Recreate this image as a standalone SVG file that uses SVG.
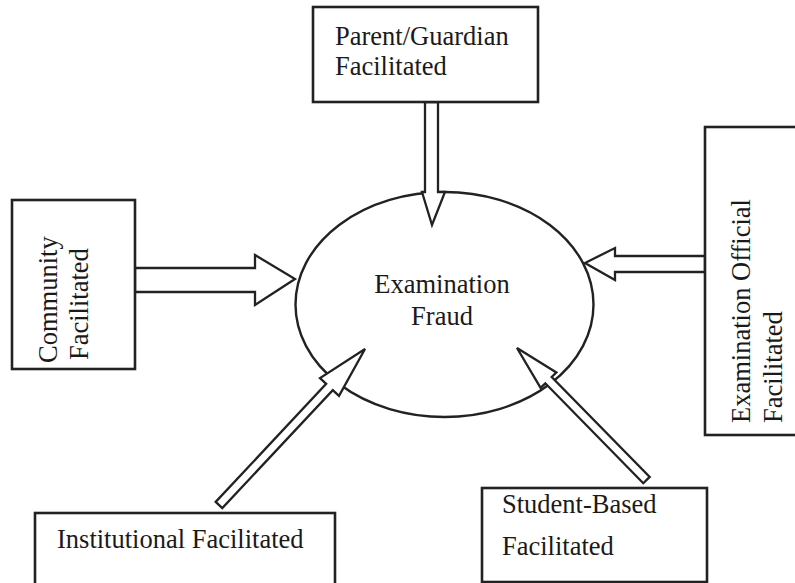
<svg xmlns="http://www.w3.org/2000/svg" width="795" height="583" viewBox="0 0 795 583">
<style>
.box{fill:#ffffff;stroke:#222;stroke-width:2.6}
.ell{fill:none;stroke:#222;stroke-width:2.4}
.arr{fill:#ffffff;stroke:#222;stroke-width:2.3;stroke-linejoin:miter}
.t{font-family:"Liberation Serif","Times New Roman",serif;font-size:26.5px;fill:#1a1a1a}
</style>
<rect width="795" height="583" fill="#ffffff"/>
<g id="fraud">
<ellipse class="ell" cx="444.5" cy="304.5" rx="149" ry="112.5"/>
<text class="t" x="442" y="293" text-anchor="middle">Examination</text>
<text class="t" x="442" y="325" text-anchor="middle">Fraud</text>
</g>
<g id="connectors">
<polygon class="arr" points="425,102 438,102 438,192 445,192 432,225 422,192 425,192"/>
<polygon class="arr" points="135,268 255,268 255,255 295,279 255,305 255,292 135,292"/>
<polygon class="arr" points="705,256 615,256 615,248 585,263 615,280 615,272 705,272"/>
<polygon class="arr" points="215.7,501.9 326.2,383.9 320,378.1 365,349 339,395.9 332.8,390.1 222.3,508.1"/>
<polygon class="arr" points="643.3,483.2 545.3,383.3 540.6,387.8 517,348 556.4,372.4 551.7,377 649.7,476.9"/>
</g>
<g id="parent">
<rect class="box" x="313" y="7" width="225" height="95"/>
<text class="t" x="335" y="45">Parent/Guardian</text>
<text class="t" x="335" y="75">Facilitated</text>
</g>
<g id="community">
<rect class="box" x="12" y="200" width="123" height="169"/>
<text class="t" transform="translate(57,363) rotate(-90)">Community</text>
<text class="t" transform="translate(88,360) rotate(-90)">Facilitated</text>
</g>
<g id="official">
<rect class="box" x="705" y="127" width="100" height="308"/>
<text class="t" transform="translate(750,423) rotate(-90)">Examination Official</text>
<text class="t" transform="translate(782,423) rotate(-90)">Facilitated</text>
</g>
<g id="institutional">
<rect class="box" x="35" y="513" width="300" height="80"/>
<text class="t" x="57" y="548">Institutional Facilitated</text>
</g>
<g id="student">
<rect class="box" x="482" y="488" width="225" height="94"/>
<text class="t" x="502" y="513">Student-Based</text>
<text class="t" x="502" y="555">Facilitated</text>
</g>
</svg>
